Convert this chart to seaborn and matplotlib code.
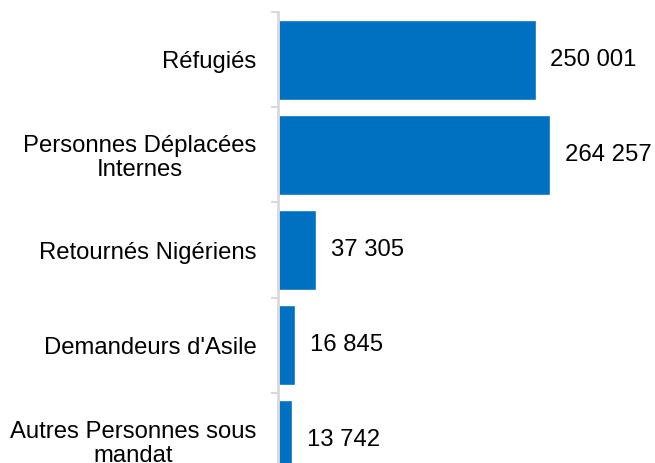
import pandas as pd
import seaborn as sns
import matplotlib.pyplot as plt
from matplotlib.ticker import FixedLocator

sns.set_style("white")
plt.rcParams['font.family'] = ['Liberation Sans', 'DejaVu Sans']

categories = ["Réfugiés", "Personnes Déplacées\nInternes", "Retournés Nigériens",
              "Demandeurs d'Asile", "Autres Personnes sous\nmandat"]
values = [250001, 264257, 37305, 16845, 13742]
labels = ["250 001", "264 257", "37 305", "16 845", "13 742"]

df = pd.DataFrame({"cat": categories, "val": values})

fig = plt.figure(figsize=(6.55, 4.63), dpi=100)
# axes runs past the bottom edge, like the cropped original
ax = fig.add_axes([278 / 655, -25 / 463, 377 / 655, 476 / 463])
sns.barplot(data=df, y="cat", x="val", orient="h", color="#0070C0",
            saturation=1, width=0.84, ax=ax)

ax.set_xlim(0, 366000)
ax.set_ylim(4.5, -0.5)
ax.set_xlabel("")
ax.set_ylabel("")
ax.set_xticks([])

for i, (v, lab) in enumerate(zip(values, labels)):
    ax.text(v + 14500, i, lab, va="center", ha="left", fontsize=17.2, color="#000000")

for s in ["top", "right", "bottom"]:
    ax.spines[s].set_visible(False)
ax.spines["left"].set_color("#D9D9D9")
ax.spines["left"].set_linewidth(2)

ax.tick_params(axis="y", which="major", length=0, pad=15.5, labelsize=17.2, labelcolor="#000000")
ax.yaxis.set_minor_locator(FixedLocator([-0.5, 0.5, 1.5, 2.5, 3.5, 4.5]))
ax.tick_params(axis="y", which="minor", length=5, width=1.5, color="#D9D9D9", left=True)
for t in ax.get_yticklabels():
    t.set_multialignment("center")
    t.set_linespacing(1.12)

fig.savefig("out.png", dpi=100)
